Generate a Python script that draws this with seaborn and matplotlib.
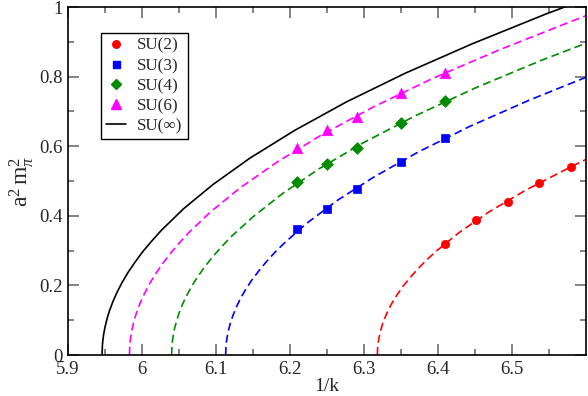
import numpy as np
import pandas as pd
import matplotlib
matplotlib.use("Agg")
import matplotlib.pyplot as plt
import seaborn as sns
from matplotlib.lines import Line2D

# ---- data ----
groups = ["SU(2)", "SU(3)", "SU(4)", "SU(6)"]

su2_x = [6.41, 6.452, 6.494, 6.536, 6.580]
su2_y = [0.319, 0.389, 0.441, 0.493, 0.541]
su3_x = [6.21, 6.25, 6.29, 6.35, 6.41]
su3_y = [0.361, 0.420, 0.477, 0.554, 0.624]
su4_x = [6.21, 6.25, 6.29, 6.35, 6.41]
su4_y = [0.498, 0.548, 0.596, 0.668, 0.731]
su6_x = [6.21, 6.25, 6.29, 6.35, 6.41]
su6_y = [0.596, 0.647, 0.685, 0.752, 0.811]

# fit curves
fit2_x = [6.318, 6.3185, 6.319, 6.320, 6.322, 6.325, 6.328, 6.333, 6.338, 6.345, 6.353, 6.363,
          6.373, 6.385, 6.398, 6.428, 6.468, 6.518, 6.578, 6.600]
fit2_y = [0.0, 0.024, 0.033, 0.047, 0.067, 0.089, 0.106, 0.130, 0.150, 0.174, 0.198, 0.224,
          0.248, 0.274, 0.299, 0.351, 0.410, 0.473, 0.539, 0.562]
fit3_x = [6.113, 6.1135, 6.114, 6.115, 6.117, 6.120, 6.123, 6.128, 6.133, 6.140, 6.148, 6.158,
          6.168, 6.180, 6.193, 6.223, 6.263, 6.313, 6.373, 6.443, 6.523, 6.600]
fit3_y = [0.0, 0.026, 0.036, 0.051, 0.072, 0.096, 0.114, 0.140, 0.162, 0.188, 0.214, 0.242,
          0.268, 0.296, 0.323, 0.379, 0.443, 0.511, 0.583, 0.657, 0.732, 0.798]
fit4_x = [6.040, 6.0405, 6.041, 6.042, 6.044, 6.047, 6.050, 6.055, 6.060, 6.067, 6.075, 6.085,
          6.095, 6.107, 6.120, 6.150, 6.190, 6.240, 6.300, 6.370, 6.450, 6.540, 6.600]
fit4_y = [0.0, 0.027, 0.038, 0.054, 0.076, 0.100, 0.120, 0.147, 0.169, 0.197, 0.224, 0.254,
          0.281, 0.310, 0.339, 0.397, 0.464, 0.536, 0.611, 0.688, 0.767, 0.847, 0.896]
fit6_x = [5.983, 5.9835, 5.984, 5.985, 5.987, 5.990, 5.993, 5.998, 6.003, 6.010, 6.018, 6.028,
          6.038, 6.050, 6.063, 6.093, 6.133, 6.183, 6.243, 6.313, 6.393, 6.483, 6.583, 6.600]
fit6_y = [0.0, 0.028, 0.039, 0.055, 0.078, 0.104, 0.124, 0.152, 0.175, 0.204, 0.232, 0.263,
          0.291, 0.321, 0.351, 0.412, 0.481, 0.555, 0.633, 0.713, 0.795, 0.877, 0.961, 0.975]
fitinf_x = [5.946, 5.9465, 5.947, 5.948, 5.950, 5.953, 5.956, 5.961, 5.966, 5.973, 5.981, 5.991,
            6.001, 6.013, 6.026, 6.056, 6.096, 6.146, 6.206, 6.276, 6.356, 6.446, 6.546, 6.600]
fitinf_y = [0.0, 0.028, 0.040, 0.057, 0.080, 0.106, 0.127, 0.155, 0.179, 0.208, 0.237, 0.268,
            0.297, 0.327, 0.358, 0.420, 0.490, 0.566, 0.645, 0.727, 0.810, 0.894, 0.980, 1.023]

x_ticks = [5.9, 6.0, 6.1, 6.2, 6.3, 6.4, 6.5]
x_tick_labels = ["5.9", "6", "6.1", "6.2", "6.3", "6.4", "6.5"]
y_ticks = [0, 0.2, 0.4, 0.6, 0.8, 1.0]
y_tick_labels = ["0", "0.2", "0.4", "0.6", "0.8", "1"]

colors = {"SU(2)": "#ff0000", "SU(3)": "#0000ff", "SU(4)": "#008b00", "SU(6)": "#ff00ff", "SU(∞)": "#000000"}
markers = {"SU(2)": "o", "SU(3)": "s", "SU(4)": "D", "SU(6)": "^"}
msizes = {"SU(2)": 6.0, "SU(3)": 5.6, "SU(4)": 6.0, "SU(6)": 7.5}

pts = pd.concat([
    pd.DataFrame({"x": su2_x, "y": su2_y, "g": "SU(2)"}),
    pd.DataFrame({"x": su3_x, "y": su3_y, "g": "SU(3)"}),
    pd.DataFrame({"x": su4_x, "y": su4_y, "g": "SU(4)"}),
    pd.DataFrame({"x": su6_x, "y": su6_y, "g": "SU(6)"}),
])
fits = {
    "SU(2)": (fit2_x, fit2_y),
    "SU(3)": (fit3_x, fit3_y),
    "SU(4)": (fit4_x, fit4_y),
    "SU(6)": (fit6_x, fit6_y),
}

sns.set_theme(style="ticks")
plt.rcParams["font.family"] = ["Liberation Serif", "DejaVu Serif"]
plt.rcParams["mathtext.fontset"] = "custom"
plt.rcParams["mathtext.rm"] = "Liberation Serif"
plt.rcParams["mathtext.it"] = "Liberation Serif:italic"

fig = plt.figure(figsize=(5.88, 3.96), dpi=100)
ax = fig.add_axes([68/588, 1-355/396, 518/588, 348/396])

for g, (fx, fy) in fits.items():
    df = pd.DataFrame({"x": fx, "y": fy})
    sns.lineplot(data=df, x="x", y="y", ax=ax, color=colors[g], lw=1.2,
                 sort=False, estimator=None, linestyle=(0, (4.8, 2.6)), legend=False)
df_inf = pd.DataFrame({"x": fitinf_x, "y": fitinf_y})
sns.lineplot(data=df_inf, x="x", y="y", ax=ax, color="black", lw=1.2,
             sort=False, estimator=None, legend=False)

for g in groups:
    d = pts[pts.g == g]
    sns.scatterplot(data=d, x="x", y="y", ax=ax, color=colors[g], marker=markers[g],
                    s=msizes[g]**2, edgecolor=colors[g], linewidth=0.5, legend=False, zorder=5)

ax.set_xlim(5.9, 6.6)
ax.set_ylim(0, 1)
ax.set_xticks(x_ticks)
ax.set_xticklabels(x_tick_labels)
ax.set_yticks(y_ticks)
ax.set_yticklabels(y_tick_labels)
ax.set_xticks(np.arange(5.95, 6.6, 0.1), minor=True)
ax.set_yticks(np.arange(0.1, 1.0, 0.2), minor=True)
ax.tick_params(which="both", direction="in", top=True, right=True, labelsize=13.5,
               color="#6e6e6e", width=1.2, pad=4)
ax.tick_params(which="major", length=8)
ax.tick_params(which="minor", length=4.5)
for s in ax.spines.values():
    s.set_linewidth(1.2)
    s.set_color("black")

ax.set_xlabel("1/k", fontsize=14, labelpad=0)
ax.set_ylabel(r"$\mathrm{a}^{2}\,\mathrm{m}_{\pi}^{2}$", fontsize=17, labelpad=2)

handles = [Line2D([], [], ls="none", marker=markers[g], color=colors[g], markersize=msizes[g]*0.9)
           for g in groups]
handles.append(Line2D([], [], color="black", lw=1.2))
labels = groups + ["SU(∞)"]
leg = ax.legend(handles, labels, loc="upper left", bbox_to_anchor=(0.0637, 0.926),
                borderaxespad=0, fontsize=12.3, frameon=True, fancybox=False,
                handlelength=1.17, handletextpad=0.65, labelspacing=0.24,
                borderpad=0.3, edgecolor="black", framealpha=1)
leg.get_frame().set_linewidth(1.0)

fig.savefig("out.png", dpi=100)
